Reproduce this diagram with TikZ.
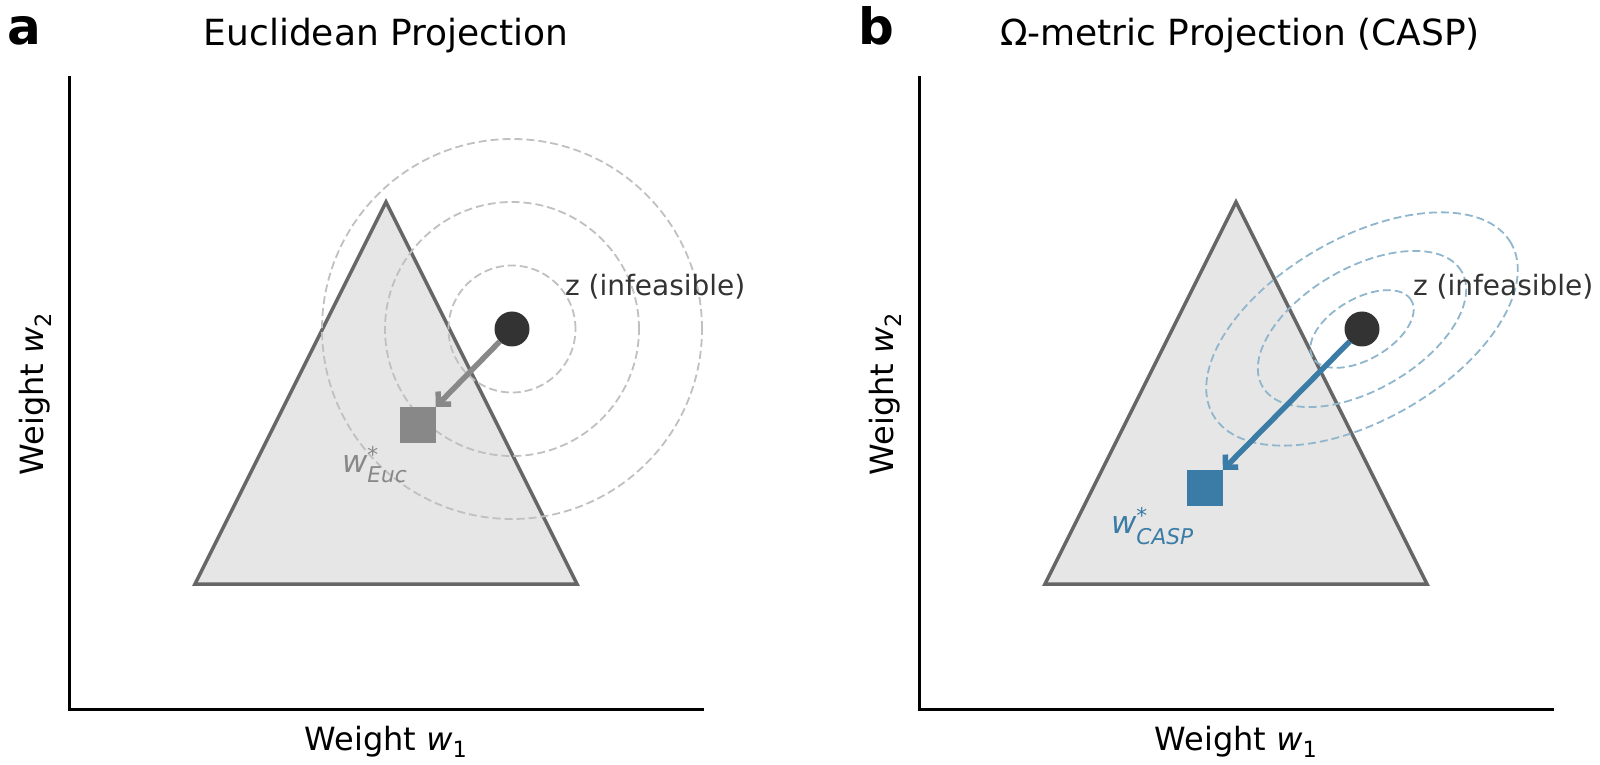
\documentclass[tikz,border=0pt]{standalone}
\usepackage{fontspec}
\usepackage{amsmath}
\setmainfont{DejaVu Sans}
\usetikzlibrary{arrows.meta,positioning}

\definecolor{trifill}{RGB}{230,230,230}
\definecolor{triedge}{RGB}{102,102,102}
\definecolor{zdark}{RGB}{51,51,51}
\definecolor{eucgray}{RGB}{136,136,136}
\definecolor{ringgray}{RGB}{192,192,192}
\definecolor{caspblue}{RGB}{58,124,165}
\definecolor{ringblue}{RGB}{143,182,204}

\begin{document}
\begin{tikzpicture}[x=1pt,y=1pt,
    every node/.style={inner sep=0pt,outer sep=0pt},
    spine/.style={line width=3pt,black},
    simplex/.style={line width=3.5pt,draw=triedge,fill=trifill},
    ringa/.style={line width=1.8pt,draw=ringgray,dash pattern=on 8pt off 4pt},
    ringb/.style={line width=1.8pt,draw=ringblue,dash pattern=on 8pt off 4pt},
    zpoint/.style={circle,fill=zdark,minimum size=35pt},
    sol/.style={rectangle,minimum size=36pt},
    proj/.style={line width=5.5pt,-{Straight Barb[length=9pt,width=18pt]}}]
  \tikzstyle{panel}=[font=\fontsize{50}{56}\selectfont\bfseries,anchor=base west]
  \tikzstyle{title}=[font=\fontsize{36}{40}\selectfont,anchor=base]
  \tikzstyle{axlabel}=[font=\fontsize{32}{36}\selectfont,anchor=base]
  \tikzstyle{note}=[font=\fontsize{28}{32}\selectfont,text=zdark,anchor=base west]
  \tikzstyle{solnote}=[font=\fontsize{31}{36}\selectfont,anchor=base west]
  \useasboundingbox (0,0) rectangle (1600,764);

  % Panel a
  \node[panel] (la) at (8,719) {a};
  \node[title] (ta) at (386,718) {Euclidean Projection};
  \draw[spine] (69,687.5) -- (69,55) -- (704,55);
  \node[axlabel] (xa) at (386,14) {Weight \textit{w}$_{\text{1}}$};
  \node[axlabel,rotate=90] (ya) at (43,370) {Weight \textit{w}$_{\text{2}}$};
  \draw[simplex] (195,180) -- (386,562) -- (577,180) -- cycle;
  \node[zpoint] (za) at (512,435) {};
  \draw[ringa] (za) circle (63.5pt);
  \draw[ringa] (za) circle (127pt);
  \draw[ringa] (za) circle (190pt);
  \node[sol,fill=eucgray] (wa) at (418,339) {};
  \draw[proj,eucgray] (za) -- (wa);
  \node[note] (na) at (565,468) {z (infeasible)};
  \node[solnote,text=eucgray] (sa) at (342,292) {\textit{w}$^{\text{*}}_{\textit{Euc}}$};

  % Panel b
  \node[panel] (lb) at (858,719) {b};
  \node[title] (tb) at (1240,718) {Ω-metric Projection (CASP)};
  \draw[spine] (919,687.5) -- (919,55) -- (1554,55);
  \node[axlabel] (xb) at (1236,14) {Weight \textit{w}$_{\text{1}}$};
  \node[axlabel,rotate=90] (yb) at (893,370) {Weight \textit{w}$_{\text{2}}$};
  \draw[simplex] (1045,180) -- (1236,562) -- (1427,180) -- cycle;
  \node[zpoint] (zb) at (1362,435) {};
  \draw[ringb,rotate around={30:(zb)}] (zb) ellipse (57pt and 30.5pt);
  \draw[ringb,rotate around={30:(zb)}] (zb) ellipse (115pt and 61pt);
  \draw[ringb,rotate around={30:(zb)}] (zb) ellipse (172pt and 91pt);
  \node[sol,fill=caspblue] (wb) at (1205,276) {};
  \draw[proj,caspblue] (zb) -- (wb);
  \node[note] (nb) at (1413,468) {z (infeasible)};
  \node[solnote,text=caspblue] (sb) at (1111,231) {\textit{w}$^{\text{*}}_{\textit{CASP}}$};

\end{tikzpicture}
\end{document}
